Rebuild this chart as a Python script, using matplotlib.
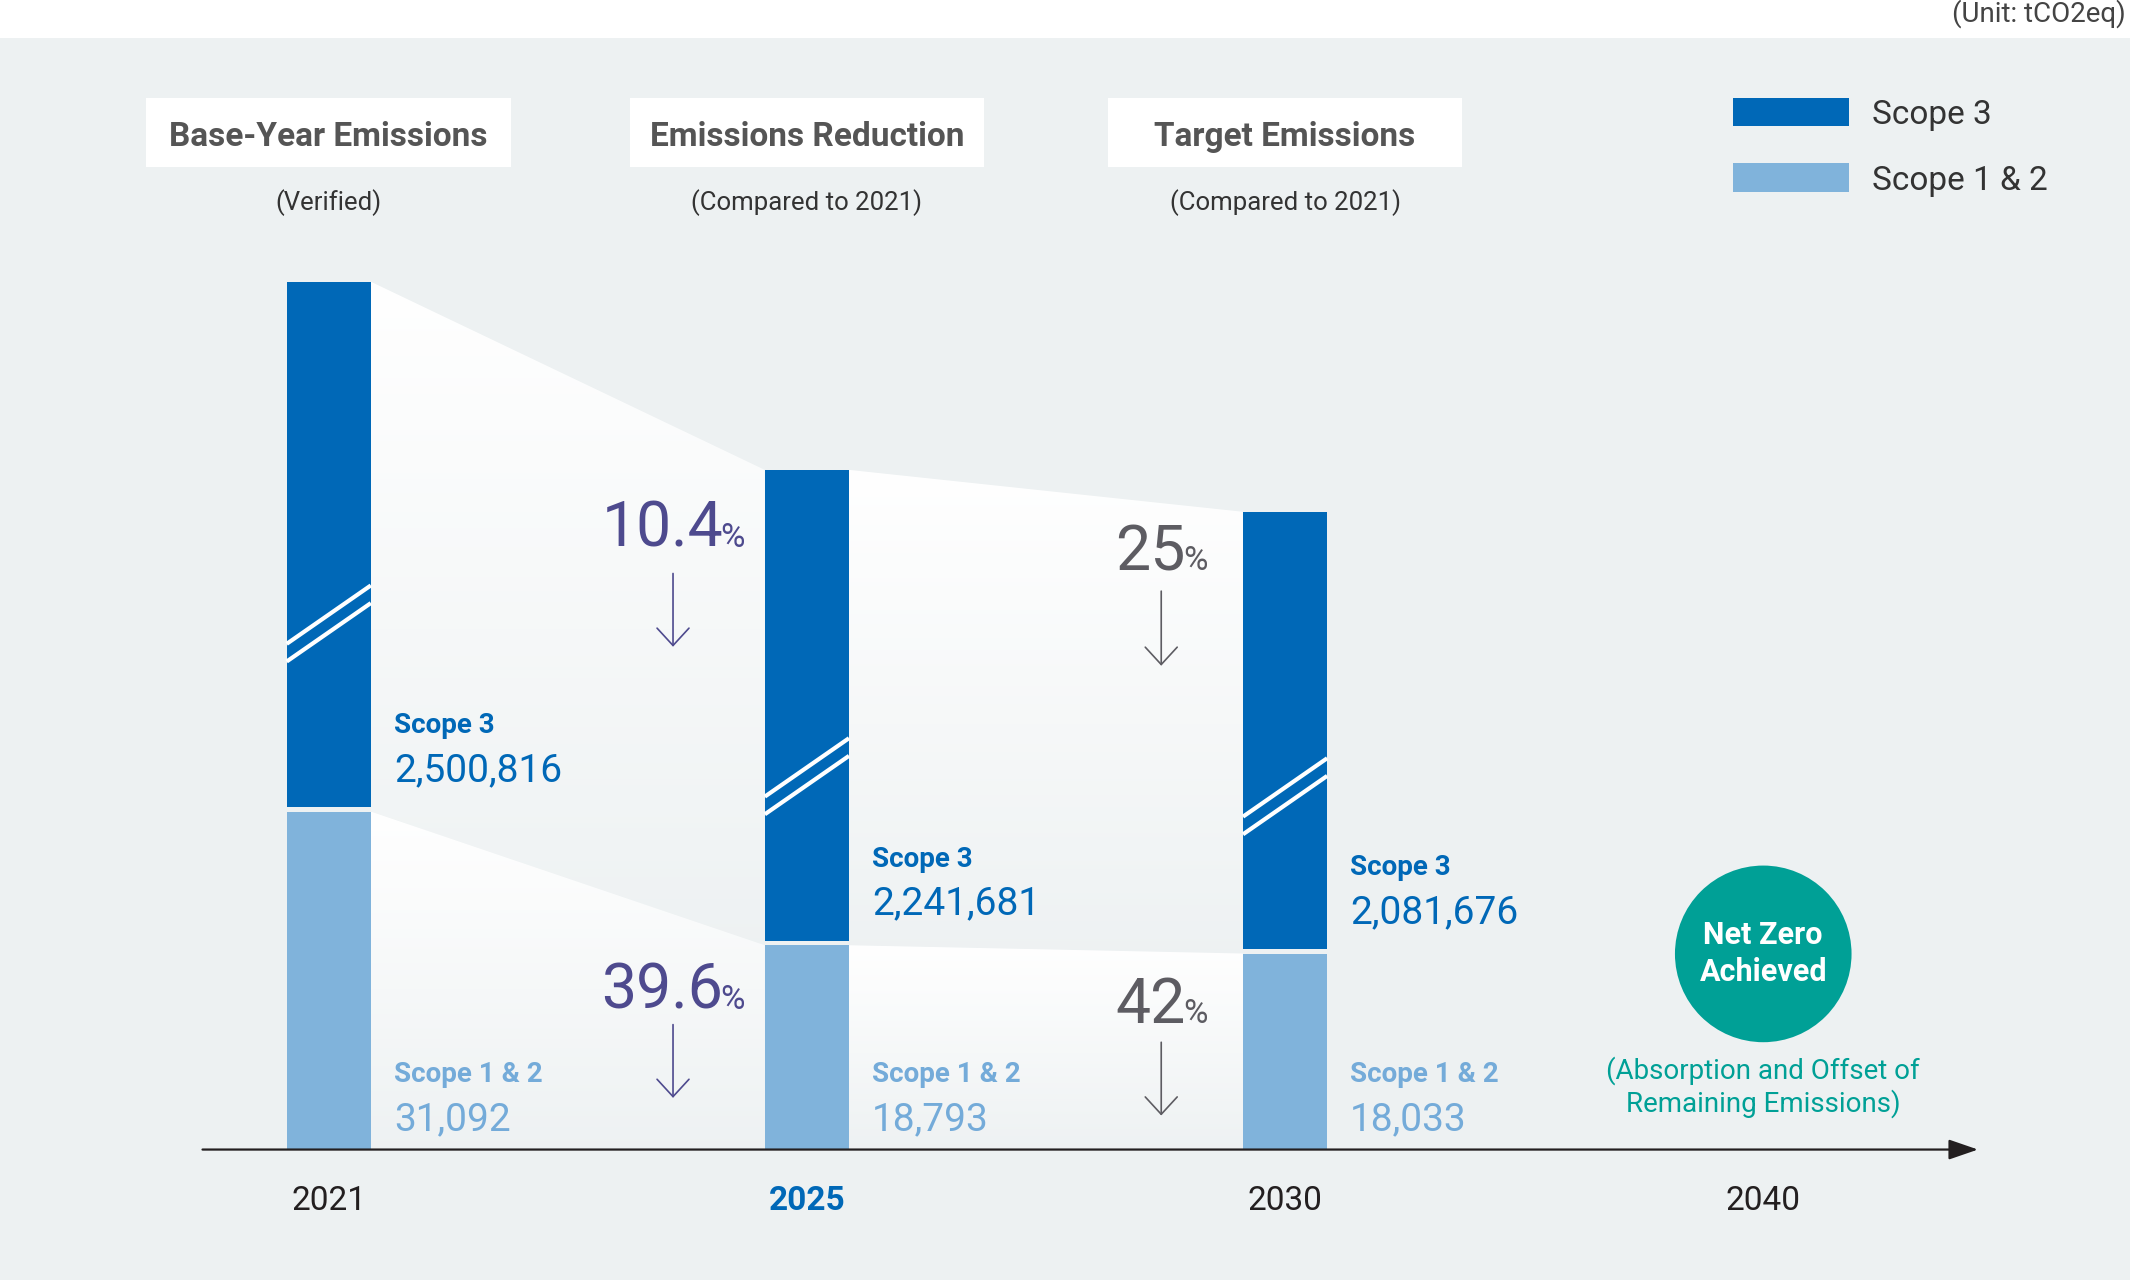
import numpy as np
import matplotlib.pyplot as plt
from matplotlib.patches import Rectangle, Polygon, Ellipse, FancyArrowPatch
from matplotlib.offsetbox import TextArea, HPacker, AnnotationBbox

plt.rcParams['font.family'] = ['Roboto', 'DejaVu Sans']

# data
years = ['2021', '2025', '2030', '2040']
scope3 = [2500816, 2241681, 2081676]
scope12 = [31092, 18793, 18033]
cut_upper = ['10.4', '25']
cut_lower = ['39.6', '42']
headers = ['Base-Year Emissions', 'Emissions Reduction', 'Target Emissions']
subtitles = ['(Verified)', '(Compared to 2021)', '(Compared to 2021)']

# colours
BG = '#edf1f2'
DARK = '#0068b7'
LIGHT = '#80b3db'
LIGHT_TXT = '#74abd9'
TEAL = '#00a096'
PURPLE = '#4e4a8e'
GREY = '#5d5c62'
HEAD = '#555555'
INK = '#231f20'

S3_SCALE = 0.01934   # scope 3 is drawn compressed (broken bars)
GAP = 375
BAR_W = 0.176

fig = plt.figure(figsize=(21.3, 12.8), dpi=100)
ax = fig.add_axes([0, 0, 1, 1])
ax.axis('off')

# grey panel
ax.add_patch(Rectangle((0, 0), 1, 0.9703, transform=ax.transAxes,
                       color=BG, zorder=0, lw=0))

x = np.arange(len(scope12))
s12 = np.array(scope12, float)
s3_h = np.array(scope3, float) * S3_SCALE
s3_bot = s12 + GAP
s3_top = s3_bot + s3_h

# white fading wedges between bars
grad = np.ones((256, 1, 4))
grad[:, 0, 3] = np.linspace(1, 0.05, 256)
for i in range(len(x) - 1):
    xl = x[i] + BAR_W / 2
    xr = x[i + 1] - BAR_W / 2
    upper = [(xl, s3_top[i]), (xr, s3_top[i + 1]), (xr, s12[i + 1]), (xl, s12[i])]
    lower = [(xl, s12[i]), (xr, s12[i + 1]), (xr, 0), (xl, 0)]
    for poly in (upper, lower):
        ys = [p[1] for p in poly]
        clip = Polygon(poly, closed=True, fc='none', ec='none')
        ax.add_patch(clip)
        im = ax.imshow(grad, extent=(xl, xr, min(ys), max(ys)), aspect='auto',
                       origin='upper', zorder=1, interpolation='bilinear')
        im.set_clip_path(clip)

# bars
ax.bar(x, s12, BAR_W, color=LIGHT, zorder=3, lw=0)
ax.bar(x, s3_h, BAR_W, bottom=s3_bot, color=DARK, zorder=3, lw=0)

# break marks on scope 3
rise, sep = 5375, 1625
for i in x:
    yc = s3_bot[i] + 0.35 * s3_h[i]
    for off in (sep / 2, -sep / 2):
        ax.plot([i - BAR_W / 2, i + BAR_W / 2],
                [yc - rise / 2 + off, yc + rise / 2 + off],
                color='white', lw=3, solid_capstyle='butt', zorder=4)

# value labels
for i in x:
    lx = i + 0.136
    ax.text(lx, s3_bot[i] + 7500, 'Scope 3', color=DARK, fontsize=20,
            fontweight='bold', va='center', zorder=5)
    ax.text(lx, s3_bot[i] + 3400, f'{scope3[i]:,}', color=DARK, fontsize=28,
            va='center', zorder=5)
    ax.text(lx, 6950, 'Scope 1 & 2', color=LIGHT_TXT, fontsize=20,
            fontweight='bold', va='center', zorder=5)
    ax.text(lx, 2750, f'{scope12[i]:,}', color=LIGHT_TXT, fontsize=28,
            va='center', zorder=5)

# reduction percentages
pct_x = [0.72, 1.741]
pct_col = [PURPLE, GREY]
up_y, up_arrow = [57000, 54875], [(53250, 46000), (51625, 44250)]
lo_y, lo_arrow = [14500, 13250], [(11750, 4500), (10125, 2875)]
for k in range(2):
    for val, yy, (a0, a1) in ((cut_upper[k], up_y[k], up_arrow[k]),
                              (cut_lower[k], lo_y[k], lo_arrow[k])):
        box = HPacker(children=[
            TextArea(val, textprops=dict(fontsize=45, color=pct_col[k])),
            TextArea('%', textprops=dict(fontsize=24, color=pct_col[k]))],
            align='baseline', pad=0, sep=-2)
        ab = AnnotationBbox(box, (pct_x[k], yy), frameon=False,
                            box_alignment=(0.5, 0.5), zorder=5)
        ax.add_artist(ab)
        ax.add_patch(FancyArrowPatch((pct_x[k], a0), (pct_x[k], a1),
                                     arrowstyle='->,head_length=1.25,head_width=1.15',
                                     mutation_scale=10, lw=1.2, color=pct_col[k],
                                     zorder=5))

# time axis
ax.annotate('', xy=(3.449, 0), xytext=(-0.264, 0),
            arrowprops=dict(arrowstyle='-|>,head_length=1.8,head_width=0.62',
                            mutation_scale=10, lw=1.6, color=INK,
                            shrinkA=0, shrinkB=0), zorder=6)
for i, yr in enumerate(years):
    if yr == '2025':
        ax.text(i, -4700, yr, ha='center', va='center', fontsize=24,
                fontweight='bold', color=DARK)
    else:
        ax.text(i, -4700, yr, ha='center', va='center', fontsize=24, color=INK)

# header boxes
box_w = [0.764, 0.741, 0.741]
for i, (h, s) in enumerate(zip(headers, subtitles)):
    ax.add_patch(Rectangle((i - box_w[i] / 2, 90375), box_w[i], 6375,
                           color='white', lw=0, zorder=2))
    ax.text(i, 93150, h, ha='center', va='center', fontsize=24,
            fontweight='bold', color=HEAD, zorder=3)
    ax.text(i, 87150, s, ha='center', va='center', fontsize=18.5, color='#333333')

# net zero badge
ax.add_patch(Ellipse((3, 18000), 130 / 352, 16250, color=TEAL, lw=0, zorder=3))
ax.text(3, 18000, 'Net Zero\nAchieved', ha='center', va='center', fontsize=22,
        fontweight='bold', color='white', linespacing=1.3, zorder=4)
ax.text(3, 5750, '(Absorption and Offset of\nRemaining Emissions)', ha='center',
        va='center', fontsize=20, color=TEAL, linespacing=1.2)

# legend
for yb, lab, col in ((94125, 'Scope 3', DARK), (88125, 'Scope 1 & 2', LIGHT)):
    ax.add_patch(Rectangle((2.9375, yb), 0.2415, 2625, color=col, lw=0, zorder=3))
    ax.text(3.227, yb + 1000, lab, va='center', fontsize=24, color='#333333')

fig.text(0.998, 0.989, '(Unit: tCO2eq)', ha='right', va='center',
         fontsize=20, color='#444444')

ax.set_xlim(-0.6875, 3.767)
ax.set_ylim(-12000, 105750)

fig.savefig('out.png', dpi=100, facecolor='white')
